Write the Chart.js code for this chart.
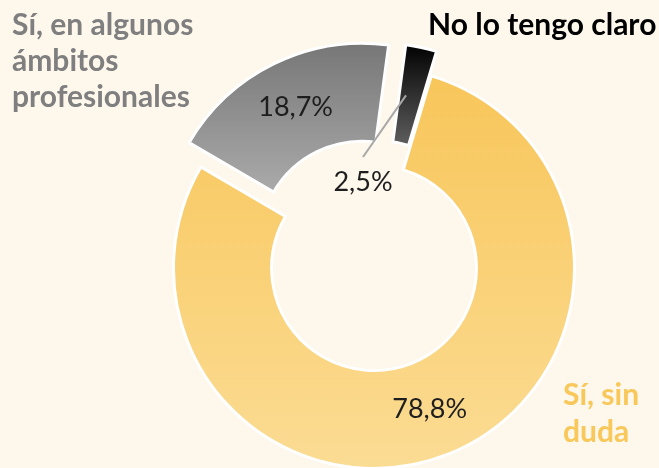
<!DOCTYPE html>
<html lang="es">
<head>
<meta charset="utf-8">
<title>Respuestas</title>
<script src="https://cdn.jsdelivr.net/npm/chart.js@4.4.1/dist/chart.umd.min.js"></script>
<style>
  html, body { margin: 0; padding: 0; background: #fdf7ec; }
  #wrap { position: relative; width: 659px; height: 468px; }
</style>
</head>
<body>
<div id="wrap"><canvas id="chart"></canvas></div>
<script>
// Answers and their shares
const categories = ['Sí, sin duda', 'Sí, en algunos ámbitos profesionales', 'No lo tengo claro'];
const shares = [78.8, 18.7, 2.5];
const shareLabels = ['78,8%', '18,7%', '2,5%'];

// Ring geometry and look
const OUTER_R = 200.5;
const CUTOUT = 0.511;
const ROTATION = 16.6;               // degrees, clockwise from 12 o'clock
const SHIFT = [0, 27, 25];           // how far each slice is pulled out of the ring (px)
const FILLS = [['#f8c65a', '#fbdc94'], ['#777777', '#aaaaaa'], ['#020202', '#5e5e5e']];
const BG = '#fdf7ec';
const FONT = 'Lato, "Open Sans", sans-serif';

const total = shares.reduce((a, b) => a + b, 0);

function sliceAngles(i) {
  let start = -Math.PI / 2 + ROTATION * Math.PI / 180;
  for (let k = 0; k < i; k++) start += shares[k] / total * 2 * Math.PI;
  const end = start + shares[i] / total * 2 * Math.PI;
  return { start, end };
}

// Vertical gradient spanning the slice's own height (before it is pulled out)
function sliceFill(ctx) {
  const chart = ctx.chart;
  const i = ctx.dataIndex;
  const ca = chart.chartArea;
  if (!ca) return FILLS[i][0];
  const cy = (ca.top + ca.bottom) / 2;
  const { start, end } = sliceAngles(i);
  const rIn = OUTER_R * CUTOUT;
  const ys = [];
  for (const a of [start, end]) ys.push(Math.sin(a) * OUTER_R, Math.sin(a) * rIn);
  for (const a of [-Math.PI / 2, Math.PI / 2]) {
    let t = a;
    while (t < start) t += 2 * Math.PI;
    if (t <= end) ys.push(Math.sin(a) * OUTER_R);
  }
  const g = chart.ctx.createLinearGradient(0, cy + Math.min(...ys), 0, cy + Math.max(...ys));
  g.addColorStop(0, FILLS[i][0]);
  g.addColorStop(1, FILLS[i][1]);
  return g;
}

function shiftOf(arc, i) {
  const mid = (arc.startAngle + arc.endAngle) / 2;
  return { dx: Math.cos(mid) * SHIFT[i], dy: Math.sin(mid) * SHIFT[i] };
}

const background = {
  id: 'background',
  beforeDraw(chart) {
    const c = chart.ctx;
    c.save();
    c.fillStyle = BG;
    c.fillRect(0, 0, chart.width, chart.height);
    c.restore();
  }
};

// Draws each arc pulled out radially by its SHIFT
const explode = {
  id: 'explode',
  beforeDatasetsDraw(chart) {
    const c = chart.ctx;
    chart.getDatasetMeta(0).data.forEach((arc, i) => {
      const { dx, dy } = shiftOf(arc, i);
      c.save();
      c.translate(dx, dy);
      arc.draw(c, chart.chartArea);
      c.restore();
    });
    return false;
  }
};

// Percentages on the slices, plus the category names around the ring
const sliceLabels = {
  id: 'sliceLabels',
  afterDraw(chart) {
    const c = chart.ctx;
    const ca = chart.chartArea;
    const cx = (ca.left + ca.right) / 2;
    const cy = (ca.top + ca.bottom) / 2;
    const meta = chart.getDatasetMeta(0);
    c.save();
    c.font = '27px ' + FONT;
    c.fillStyle = '#1e1e1e';
    c.textAlign = 'center';
    c.textBaseline = 'middle';
    meta.data.forEach((arc, i) => {
      const mid = (arc.startAngle + arc.endAngle) / 2;
      const rad = (arc.innerRadius + arc.outerRadius) / 2 + SHIFT[i];
      const px = cx + Math.cos(mid) * rad;
      const py = cy + Math.sin(mid) * rad;
      if (i < 2) {
        c.fillText(shareLabels[i], px, py);
      } else {
        // thin slice: value sits in the hole, tied to the slice by a leader line
        c.strokeStyle = '#a8a8a8';
        c.lineWidth = 2;
        c.beginPath();
        c.moveTo(cx - 11, cy - 111);
        c.lineTo(px - 5, py);
        c.stroke();
        c.fillText(shareLabels[i], cx - 11, cy - 86);
      }
    });

    // category names
    c.font = 'bold 30px ' + FONT;
    c.textAlign = 'left';
    c.textBaseline = 'alphabetic';
    c.fillStyle = '#7f7f7f';
    ['Sí, en algunos', 'ámbitos', 'profesionales'].forEach((t, k) => c.fillText(t, 12, 35 + k * 36));
    c.fillStyle = '#000000';
    c.fillText(categories[2], 428, 35);
    c.fillStyle = '#f9c85b';
    ['Sí, sin', 'duda'].forEach((t, k) => c.fillText(t, 563, 405 + k * 37));
    c.restore();
  }
};

new Chart(document.getElementById('chart'), {
  type: 'doughnut',
  data: {
    labels: categories,
    datasets: [{
      data: shares,
      backgroundColor: sliceFill,
      borderColor: '#ffffff',
      borderWidth: 3
    }]
  },
  options: {
    responsive: true,
    maintainAspectRatio: false,
    animation: false,
    radius: OUTER_R,
    cutout: (CUTOUT * 100) + '%',
    rotation: ROTATION,
    layout: { padding: { left: 157, right: 68, top: 68, bottom: 0 } },
    plugins: {
      legend: { display: false },
      tooltip: { enabled: false }
    }
  },
  plugins: [background, explode, sliceLabels]
});
</script>
</body>
</html>
